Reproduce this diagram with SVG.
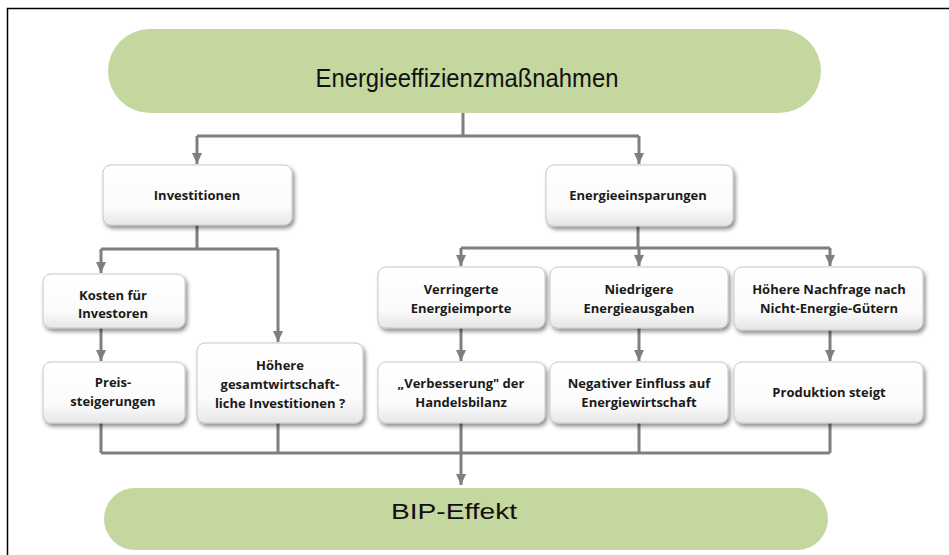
<svg xmlns="http://www.w3.org/2000/svg" width="949" height="555" viewBox="0 0 949 555">
  <style>
    .pill { fill: #c4d79f; }
    .pill-text { font-family: "Liberation Sans", Arial, sans-serif; fill: #111; text-anchor: middle; }
    .box { fill: url(#boxFill); stroke: #c8c8c8; stroke-width: 1; filter: url(#shadow); }
    .label { font-family: "Open Sans", "Noto Sans", sans-serif; font-weight: 700; font-size: 13px; fill: #1a1a1a; text-anchor: middle; }
    .wire { fill: none; stroke: #7f7f7f; stroke-width: 3; }
    .arrow { fill: none; stroke: #7f7f7f; stroke-width: 3; marker-end: url(#head); }
  </style>
  <defs>
    <linearGradient id="boxFill" x1="0" y1="0" x2="0" y2="1">
      <stop offset="0" stop-color="#ffffff"/>
      <stop offset="0.7" stop-color="#fbfbfb"/>
      <stop offset="1" stop-color="#e6e6e6"/>
    </linearGradient>
    <filter id="shadow" x="-10%" y="-15%" width="125%" height="140%">
      <feGaussianBlur in="SourceAlpha" stdDeviation="2"/>
      <feOffset dx="2" dy="3" result="blur"/>
      <feComponentTransfer><feFuncA type="linear" slope="0.45"/></feComponentTransfer>
      <feMerge><feMergeNode/><feMergeNode in="SourceGraphic"/></feMerge>
    </filter>
    <marker id="head" markerUnits="userSpaceOnUse" markerWidth="12" markerHeight="12" refX="11" refY="6" orient="auto">
      <path d="M0,1 L11,6 L0,11 Z" fill="#7f7f7f"/>
    </marker>
  </defs>

  <rect width="949" height="555" fill="#ffffff"/>
  <!-- outer frame -->
  <rect x="7.5" y="8.5" width="960" height="560" fill="none" stroke="#000" stroke-width="1.5"/>

  <!-- connectors -->
  <g id="connectors">
    <path class="wire" d="M463,113 V136 M197,136 H639"/>
    <path class="arrow" d="M197,136 V164"/>
    <path class="arrow" d="M639,136 V164"/>
    <path class="wire" d="M197,225 V249 M101,249 H278"/>
    <path class="arrow" d="M101,249 V273"/>
    <path class="arrow" d="M278,249 V342"/>
    <path class="arrow" d="M101,328 V361"/>
    <path class="wire" d="M638,226 V248 M461,248 H830"/>
    <path class="arrow" d="M461,248 V266"/>
    <path class="arrow" d="M639,248 V266"/>
    <path class="arrow" d="M830,248 V266"/>
    <path class="arrow" d="M461,328 V361"/>
    <path class="arrow" d="M639,328 V361"/>
    <path class="arrow" d="M830,330 V361"/>
    <path class="wire" d="M101,423 V453 M278,423 V453 M461,423 V453 M639,423 V453 M830,423 V453 M101,453 H830"/>
    <path class="arrow" d="M461,453 V485"/>
  </g>

  <g id="massnahmen">
    <rect class="pill" x="108" y="29" width="713" height="84" rx="42"/>
    <text class="pill-text" x="467" y="87" font-size="25" textLength="303" lengthAdjust="spacingAndGlyphs">Energieeffizienzmaßnahmen</text>
  </g>

  <g id="investitionen">
    <rect class="box" x="103" y="165" width="189" height="60" rx="8"/>
    <text class="label" x="197" y="200">Investitionen</text>
  </g>

  <g id="energieeinsparungen">
    <rect class="box" x="546" y="165" width="187" height="61" rx="8"/>
    <text class="label" x="638" y="200">Energieeinsparungen</text>
  </g>

  <g id="kosten">
    <rect class="box" x="43" y="274" width="142" height="54" rx="8"/>
    <text class="label" x="113" y="300">Kosten für</text>
    <text class="label" x="113" y="318">Investoren</text>
  </g>

  <g id="preissteigerungen">
    <rect class="box" x="43" y="362" width="142" height="61" rx="8"/>
    <text class="label" x="113" y="387">Preis-</text>
    <text class="label" x="113" y="406">steigerungen</text>
  </g>

  <g id="hoehere-investitionen">
    <rect class="box" x="197" y="343" width="166" height="80" rx="8"/>
    <text class="label" x="280" y="370">Höhere</text>
    <text class="label" x="280" y="389">gesamtwirtschaft-</text>
    <text class="label" x="280" y="408">liche Investitionen ?</text>
  </g>

  <g id="energieimporte">
    <rect class="box" x="378" y="267" width="167" height="61" rx="8"/>
    <text class="label" x="461" y="294">Verringerte</text>
    <text class="label" x="461" y="313">Energieimporte</text>
  </g>

  <g id="handelsbilanz">
    <rect class="box" x="378" y="362" width="167" height="61" rx="8"/>
    <text class="label" x="461" y="388">„Verbesserung" der</text>
    <text class="label" x="461" y="407">Handelsbilanz</text>
  </g>

  <g id="energieausgaben">
    <rect class="box" x="550" y="267" width="178" height="61" rx="8"/>
    <text class="label" x="639" y="294">Niedrigere</text>
    <text class="label" x="639" y="313">Energieausgaben</text>
  </g>

  <g id="energiewirtschaft">
    <rect class="box" x="550" y="362" width="178" height="61" rx="8"/>
    <text class="label" x="639" y="388">Negativer Einfluss auf</text>
    <text class="label" x="639" y="407">Energiewirtschaft</text>
  </g>

  <g id="nachfrage">
    <rect class="box" x="734" y="267" width="189" height="63" rx="8"/>
    <text class="label" x="829" y="294">Höhere Nachfrage nach</text>
    <text class="label" x="829" y="313">Nicht-Energie-Gütern</text>
  </g>

  <g id="produktion">
    <rect class="box" x="734" y="362" width="189" height="61" rx="8"/>
    <text class="label" x="829" y="397">Produktion steigt</text>
  </g>

  <g id="bip-effekt">
    <rect class="pill" x="104" y="488" width="724" height="62" rx="31"/>
    <text class="pill-text" x="454" y="519" font-size="22" textLength="126" lengthAdjust="spacingAndGlyphs">BIP-Effekt</text>
  </g>
</svg>
